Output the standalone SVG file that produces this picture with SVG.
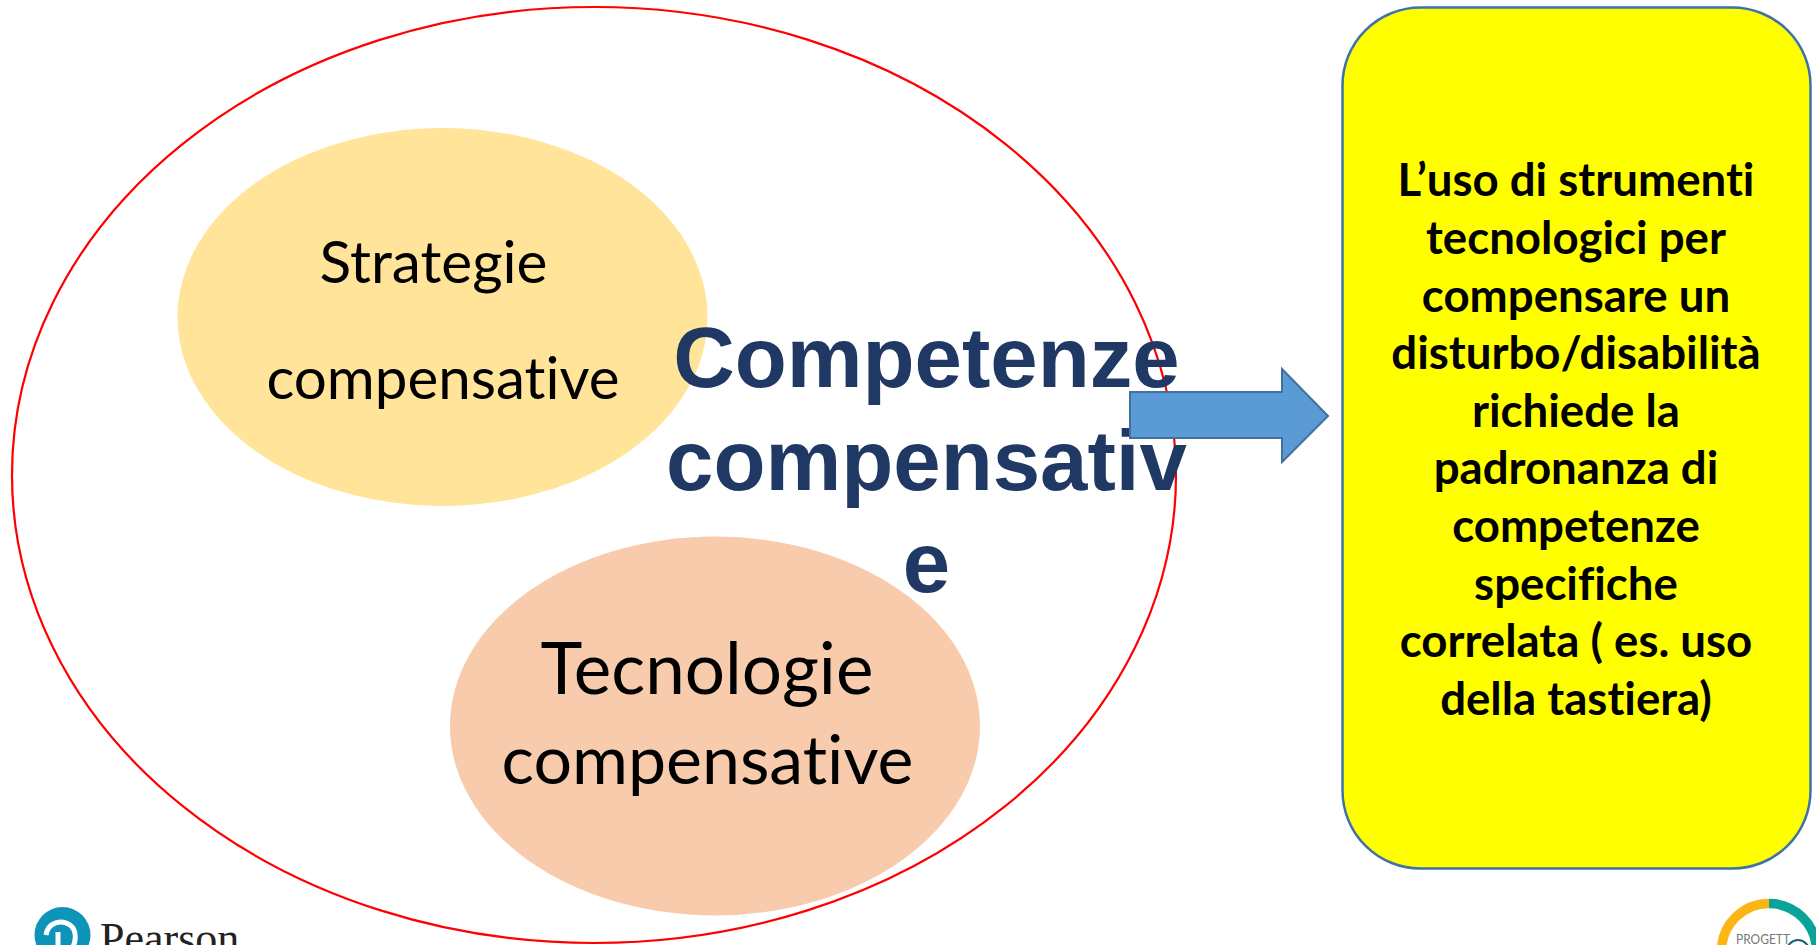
<svg xmlns="http://www.w3.org/2000/svg" width="1816" height="945" viewBox="0 0 1816 945">
<style>
text{font-variant-ligatures:none}
.h{font-family:"Lato","Open Sans",sans-serif;fill:#000;text-anchor:middle}
.t{font-family:"Lato","Open Sans",sans-serif;font-weight:700;font-size:45.6px;fill:#000;text-anchor:middle}
.c{font-family:"Liberation Sans",Arial,sans-serif;font-weight:700;font-size:85.2px;fill:#1f3864;text-anchor:middle}
</style>
<rect width="1816" height="945" fill="#fff"/>
<g id="outer"><ellipse cx="594" cy="475" rx="582" ry="468" fill="#fff" stroke="#ff0000" stroke-width="2.2"/></g>
<g id="strategie"><ellipse cx="442.5" cy="317" rx="265" ry="189" fill="#ffe499"/>
<text class="h" x="433.5" y="283" font-size="58.5">Strategie</text>
<text class="h" x="443" y="399" font-size="58.3">compensative</text></g>
<g id="tecnologie"><ellipse cx="715" cy="726" rx="265" ry="189.5" fill="#f7cbac"/>
<text class="h" x="707" y="694" font-size="71">Tecnologie</text>
<text class="h" x="707.5" y="784" font-size="68">compensative</text></g>
<g id="competenze"><text class="c" x="926.5" y="387">Competenze</text>
<text class="c" x="926.5" y="490">compensativ</text>
<text class="c" x="926.5" y="592">e</text></g>
<g id="connectors"><path d="M1130 392H1282V369L1328 416L1282 462V438H1130Z" fill="#5b9bd5" stroke="#41719c" stroke-width="2"/></g>
<g id="box"><rect x="1342.5" y="7.5" width="468" height="861" rx="78" fill="#ffff00" stroke="#3f72a8" stroke-width="2.5"/>
<text class="t"><tspan x="1576" y="196">L’uso di strumenti</tspan><tspan x="1576" y="254">tecnologici per</tspan><tspan x="1576" y="312">compensare un</tspan><tspan x="1576" y="369">disturbo/disabilità</tspan><tspan x="1576" y="427">richiede la</tspan><tspan x="1576" y="484">padronanza di</tspan><tspan x="1576" y="542">competenze</tspan><tspan x="1576" y="600">specifiche</tspan><tspan x="1576" y="657">correlata ( es. uso</tspan><tspan x="1576" y="715">della tastiera)</tspan></text></g>
<g id="pearson"><circle cx="62.5" cy="935" r="28" fill="#0d94b8"/>
<path d="M46 935C48 922 62 919 70 925C78 931 76 945 70 950M58 932V950" fill="none" stroke="#fff" stroke-width="5"/>
<text x="100" y="953" font-family="Liberation Serif,serif" font-size="44" fill="#222">Pearson</text></g>
<g id="progetto"><path d="M1769 903.5A47.5 47.5 0 0 0 1721.5 951" fill="none" stroke="#fdb515" stroke-width="9.5"/>
<path d="M1769 903.5A47.5 47.5 0 0 1 1816.5 951" fill="none" stroke="#0aa39a" stroke-width="9.5"/>
<text x="1736" y="944" font-family="Lato,sans-serif" font-size="14" fill="#777" textLength="54" lengthAdjust="spacingAndGlyphs">PROGETT</text>
<circle cx="1798" cy="951" r="11" fill="none" stroke="#16606e" stroke-width="2"/></g>
</svg>
